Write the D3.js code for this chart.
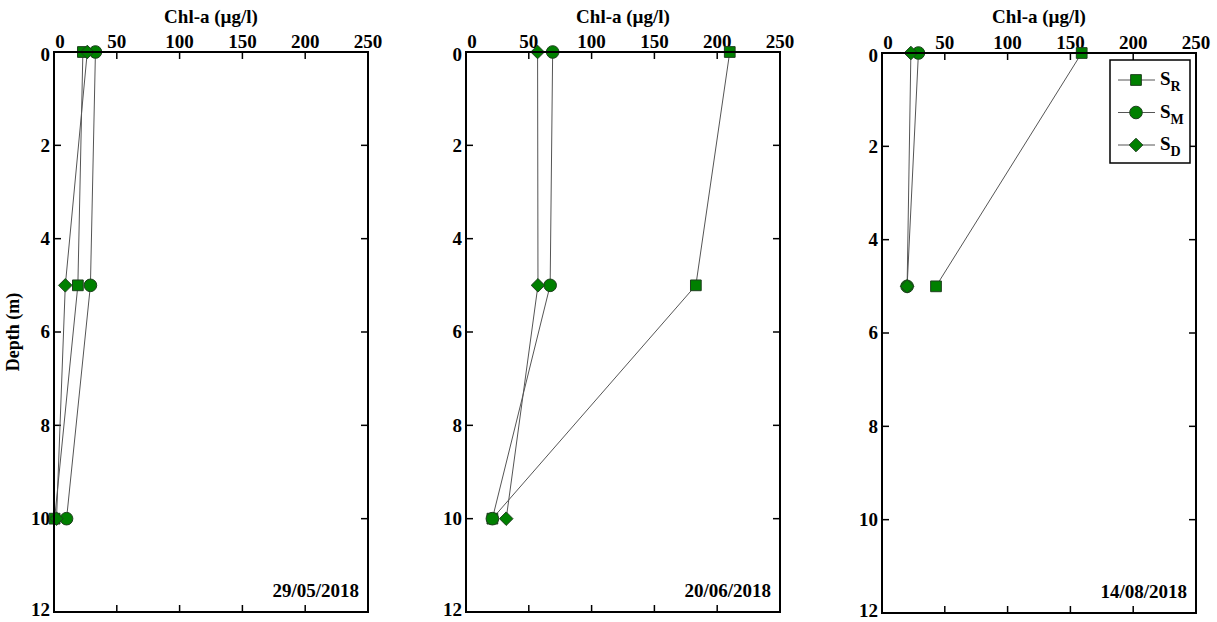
<!DOCTYPE html>
<html>
<head>
<meta charset="utf-8">
<script src="https://cdn.jsdelivr.net/npm/d3@7"></script>
<style>
  body { margin: 0; background: #fff; }
  text { font-family: "Liberation Serif", "Times New Roman", serif; font-weight: bold; fill: #000; }
</style>
</head>
<body>
<svg id="chart" width="1217" height="622"></svg>
<script>
// depth levels (m) and sampling dates
const depths = [0, 5, 10];
const dates = ["29/05/2018", "20/06/2018", "14/08/2018"];

// Chl-a (µg/l) per panel, one value per depth
const srValues = [[23, 19, 0.5], [210, 183, 21], [159, 43]];
const smValues = [[33, 29, 10], [69, 67, 21], [29, 20]];
const sdValues = [[26.5, 9, 2], [57, 57.3, 32], [23, 20]];

const xTicks = [0, 50, 100, 150, 200, 250];
const yTicks = [0, 2, 4, 6, 8, 10, 12];

// a diamond with equal width and height (d3's own one is tall)
const diamond = {
  draw(ctx, size) {
    const r = Math.sqrt(size / 2);
    ctx.moveTo(0, -r); ctx.lineTo(r, 0); ctx.lineTo(0, r); ctx.lineTo(-r, 0); ctx.closePath();
  }
};

const series = [
  { name: "R", values: srValues, shape: d3.symbolSquare, size: 115 },
  { name: "M", values: smValues, shape: d3.symbolCircle, size: 125 },
  { name: "D", values: sdValues, shape: diamond, size: 92 }
];

const panels = [
  { left: 54, top: 52 },
  { left: 466, top: 52 },
  { left: 882, top: 53 }
];
const pw = 314, ph = 560;

const svg = d3.select("#chart");

panels.forEach((p, i) => {
  const g = svg.append("g").attr("transform", `translate(${p.left},${p.top})`);

  const x = d3.scaleLinear().domain([0, 250]).range([0, pw]);
  const y = d3.scaleLinear().domain([0, 12]).range([0, ph]);

  // ticks inward on all four sides
  const inner = 7;
  xTicks.slice(1, -1).forEach(t => {
    g.append("line").attr("x1", x(t)).attr("x2", x(t)).attr("y1", 0).attr("y2", inner)
      .attr("stroke", "#000").attr("stroke-width", 1.5);
    g.append("line").attr("x1", x(t)).attr("x2", x(t)).attr("y1", ph).attr("y2", ph - inner)
      .attr("stroke", "#000").attr("stroke-width", 1.5);
  });
  yTicks.slice(1, -1).forEach(t => {
    g.append("line").attr("x1", 0).attr("x2", inner).attr("y1", y(t)).attr("y2", y(t))
      .attr("stroke", "#000").attr("stroke-width", 1.5);
    g.append("line").attr("x1", pw).attr("x2", pw - inner).attr("y1", y(t)).attr("y2", y(t))
      .attr("stroke", "#000").attr("stroke-width", 1.5);
  });

  // tick labels
  g.selectAll(".xl").data(xTicks).join("text")
    .attr("x", d => x(d) + (d === 0 ? 6 : 0))
    .attr("y", -4)
    .attr("text-anchor", "middle")
    .style("font-size", "19px")
    .text(d => d);
  g.selectAll(".yl").data(yTicks).join("text")
    .attr("x", -4)
    .attr("y", d => y(d))
    .attr("dy", d => d === 0 ? "0.45em" : (d === 12 ? "0.22em" : "0.33em"))
    .attr("text-anchor", "end")
    .style("font-size", "19px")
    .text(d => d);

  // axis title
  g.append("text")
    .attr("x", pw / 2)
    .attr("y", -p.top + 23)
    .attr("text-anchor", "middle")
    .style("font-size", "19px")
    .text("Chl-a (\u00b5g/l)");

  // profile lines
  const line = d3.line().x(d => x(d.v)).y(d => y(d.depth));
  series.forEach(s => {
    const pts = s.values[i].map((v, j) => ({ v: v, depth: depths[j] }));
    g.append("path")
      .datum(pts)
      .attr("d", line)
      .attr("fill", "none")
      .attr("stroke", "#555")
      .attr("stroke-width", 1);
  });
  series.forEach(s => {
    const pts = s.values[i].map((v, j) => ({ v: v, depth: depths[j] }));
    g.selectAll(null).data(pts).join("path")
      .attr("d", d3.symbol().type(s.shape).size(s.size))
      .attr("transform", d => `translate(${x(d.v)},${y(d.depth)})`)
      .attr("fill", "#008000")
      .attr("stroke", "#1f3f1f")
      .attr("stroke-width", 1);
  });

  // frame
  g.append("rect").attr("width", pw).attr("height", ph)
    .attr("fill", "none").attr("stroke", "#000").attr("stroke-width", 2);

  // date label
  g.append("text")
    .attr("x", pw - 9)
    .attr("y", ph - 15)
    .attr("text-anchor", "end")
    .style("font-size", "19px")
    .text(dates[i]);

  if (i === 0) {
    g.append("text")
      .attr("transform", `translate(${-p.left + 19},${ph / 2}) rotate(-90)`)
      .attr("text-anchor", "middle")
      .style("font-size", "18px")
      .text("Depth (m)");
  }

  // legend in the last panel
  if (i === 2) {
    const lg = g.append("g").attr("transform", `translate(${pw - 86},7)`);
    lg.append("rect").attr("width", 80).attr("height", 103)
      .attr("fill", "#fff").attr("stroke", "#000").attr("stroke-width", 1.5);
    series.forEach((s, k) => {
      const yy = 20 + k * 32.5;
      lg.append("line").attr("x1", 8).attr("x2", 45).attr("y1", yy).attr("y2", yy)
        .attr("stroke", "#555").attr("stroke-width", 1);
      lg.append("path")
        .attr("d", d3.symbol().type(s.shape).size(s.size))
        .attr("transform", `translate(26,${yy})`)
        .attr("fill", "#008000").attr("stroke", "#1f3f1f");
      const t = lg.append("text").attr("x", 50).attr("y", yy + 5).style("font-size", "19px");
      t.append("tspan").text("S");
      t.append("tspan").attr("dy", 6).style("font-size", "14px").text(s.name);
    });
  }
});
</script>
</body>
</html>
